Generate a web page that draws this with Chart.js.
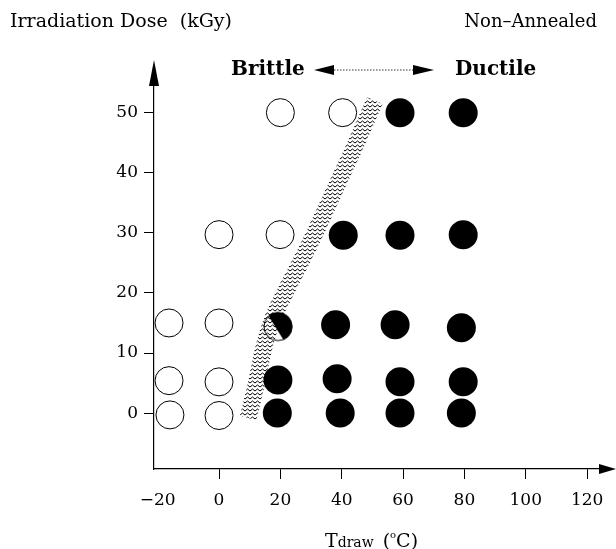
<!DOCTYPE html>
<html>
<head>
<meta charset="utf-8">
<script src="https://cdn.jsdelivr.net/npm/chart.js@4.4.0/dist/chart.umd.min.js"></script>
<style>html,body{margin:0;background:#fff}</style>
</head>
<body>
<canvas id="c" width="616" height="549"></canvas>
<script>
// tick values
const xTicks = [-20, 0, 20, 40, 60, 80, 100, 120];
const yTicks = [0, 10, 20, 30, 40, 50];

// brittle samples (open circles)
const brittle = [
    {x: -16.3, y: 15}, {x: -16.3, y: 5.4}, {x: -16, y: -0.3},
    {x: 0, y: 15}, {x: 0, y: 5.2}, {x: 0, y: -0.4}, {x: 0, y: 29.7},
    {x: 19.9, y: 29.7}, {x: 20, y: 50}, {x: 40.3, y: 50}
];
// ductile samples (filled circles)
const ductile = [
    {x: 59, y: 50}, {x: 79.6, y: 50},
    {x: 40.5, y: 29.6}, {x: 59, y: 29.6}, {x: 79.6, y: 29.7},
    {x: 38, y: 14.7}, {x: 57.4, y: 14.7}, {x: 79, y: 14.2},
    {x: 19.2, y: 5.5}, {x: 38.5, y: 5.7}, {x: 59, y: 5.2}, {x: 79.6, y: 5.2},
    {x: 19, y: 0}, {x: 39.5, y: 0}, {x: 59, y: 0}, {x: 79, y: 0}
];
// partly ductile
const mixed = [{x: 19.2, y: 14.4}];

// transition band centre line
const bandX = [9.5, 12.2, 14.2, 17, 21.5, 26.5, 31.3, 35.8, 40.3, 44.8, 50.8];
const bandY = [-0.8, 5, 10, 15, 20, 25, 30, 35, 40, 45, 52];

const FONT = 'DejaVu Serif';

// zigzag pattern for the band
const pc = document.createElement('canvas');
pc.width = 5; pc.height = 4;
const pctx = pc.getContext('2d');
pctx.strokeStyle = '#000';
pctx.lineWidth = 1;
pctx.beginPath();
pctx.moveTo(0, 3); pctx.lineTo(2.5, 1); pctx.lineTo(5, 3);
pctx.stroke();
const zigzag = document.getElementById('c').getContext('2d').createPattern(pc, 'repeat');

// half filled marker
const half = document.createElement('canvas');
half.width = 32; half.height = 32;
(function () {
    const h = half.getContext('2d');
    h.translate(16, 16);
    h.save();
    h.beginPath(); h.arc(0, 0, 14.5, 0, Math.PI * 2); h.clip();
    h.fillStyle = '#fff'; h.fillRect(-16, -16, 32, 32);
    h.fillStyle = '#000';
    h.beginPath();
    h.moveTo(-18.4, -25); h.lineTo(15, 28.4); h.lineTo(30, 28.4); h.lineTo(30, -25);
    h.closePath(); h.fill();
    h.restore();
    h.strokeStyle = '#000'; h.lineWidth = 1;
    h.beginPath(); h.arc(0, 0, 14, 0, Math.PI * 2); h.stroke();
})();

const extras = {
    id: 'extras',
    afterDraw(chart) {
        const ctx = chart.ctx;
        const a = chart.chartArea;
        ctx.save();
        ctx.fillStyle = '#000';
        ctx.strokeStyle = '#000';
        // axis arrowheads
        ctx.beginPath();
        ctx.moveTo(a.left, 60); ctx.lineTo(a.left - 5, a.top + 1); ctx.lineTo(a.left + 5, a.top + 1);
        ctx.closePath(); ctx.fill();
        ctx.beginPath();
        ctx.moveTo(616, a.bottom); ctx.lineTo(a.right - 1, a.bottom - 5); ctx.lineTo(a.right - 1, a.bottom + 5);
        ctx.closePath(); ctx.fill();

        ctx.textBaseline = 'alphabetic';
        ctx.font = '19px "' + FONT + '"';
        ctx.textAlign = 'left';
        ctx.fillText('Irradiation Dose  (kGy)', 10, 27);
        ctx.font = '18px "' + FONT + '"';
        ctx.textAlign = 'right';
        ctx.fillText('Non\u2013Annealed', 597, 27);

        // brittle / ductile arrow
        ctx.font = 'bold 20px "' + FONT + '"';
        ctx.textAlign = 'left';
        ctx.fillText('Brittle', 231, 75);
        ctx.fillText('Ductile', 455, 75);
        ctx.beginPath();
        ctx.moveTo(314, 70); ctx.lineTo(334, 65); ctx.lineTo(334, 75); ctx.closePath(); ctx.fill();
        ctx.beginPath();
        ctx.moveTo(434, 70); ctx.lineTo(413, 65); ctx.lineTo(413, 75); ctx.closePath(); ctx.fill();
        ctx.lineWidth = 0.8;
        ctx.setLineDash([1.5, 1.5]);
        ctx.beginPath(); ctx.moveTo(334, 70); ctx.lineTo(413, 70); ctx.stroke();
        ctx.setLineDash([]);

        // x title: T_draw (oC)
        let x = 325;
        const y = 547;
        ctx.font = '19px "' + FONT + '"';
        ctx.fillText('T', x, y); x += ctx.measureText('T').width;
        ctx.font = '14px "' + FONT + '"';
        ctx.fillText('draw', x, y); x += ctx.measureText('draw').width + 9;
        ctx.font = '19px "' + FONT + '"';
        ctx.fillText('(', x, y); x += ctx.measureText('(').width;
        ctx.font = '10px "' + FONT + '"';
        ctx.fillText('o', x, y - 9); x += ctx.measureText('o').width;
        ctx.font = '19px "' + FONT + '"';
        ctx.fillText('C)', x, y);
        ctx.restore();
    }
};

new Chart(document.getElementById('c'), {
    type: 'scatter',
    data: {
        datasets: [
            {
                type: 'line',
                data: bandX.map((v, i) => ({x: v, y: bandY[i]})),
                borderColor: zigzag,
                borderWidth: 17,
                borderCapStyle: 'butt',
                cubicInterpolationMode: 'monotone',
                pointRadius: 0,
                fill: false,
                order: 0
            },
            {
                data: brittle,
                pointStyle: 'circle',
                pointRadius: 14,
                backgroundColor: '#fff',
                borderColor: '#000',
                borderWidth: 1,
                order: 1
            },
            {
                data: ductile,
                pointStyle: 'circle',
                pointRadius: 14.5,
                backgroundColor: '#000',
                borderColor: '#000',
                borderWidth: 0,
                order: 1
            },
            {
                data: mixed,
                pointStyle: half,
                order: 1
            }
        ]
    },
    options: {
        responsive: false,
        animation: false,
        events: [],
        layout: { padding: { top: 85, right: 16, left: 0, bottom: 0 } },
        plugins: { legend: { display: false }, tooltip: { enabled: false } },
        elements: { point: { hitRadius: 0 } },
        clip: false,
        scales: {
            x: {
                type: 'linear',
                min: -21.2,
                max: 124.2,
                afterBuildTicks: (s) => { s.ticks = xTicks.map(v => ({value: v})); },
                afterFit: (s) => { s.height = 80; },
                border: { display: true, color: '#000', width: 1.2 },
                grid: {
                    drawOnChartArea: false,
                    drawTicks: true,
                    tickLength: 10,
                    color: (c) => (c.tick && c.tick.value === -20) ? 'rgba(0,0,0,0)' : '#000'
                },
                ticks: {
                    color: '#000',
                    padding: 11,
                    maxRotation: 0,
                    font: { family: FONT, size: 17 },
                    callback: (v) => (v < 0 ? '\u2212' + Math.abs(v) : '' + v)
                }
            },
            y: {
                type: 'linear',
                min: -9.3,
                max: 54.6,
                afterBuildTicks: (s) => { s.ticks = yTicks.map(v => ({value: v})); },
                afterFit: (s) => { s.width = 154; },
                border: { display: true, color: '#000', width: 1.2 },
                grid: {
                    drawOnChartArea: false,
                    drawTicks: true,
                    tickLength: 10,
                    color: '#000'
                },
                ticks: {
                    color: '#000',
                    padding: 6,
                    font: { family: FONT, size: 17 }
                }
            }
        }
    },
    plugins: [extras]
});
</script>
</body>
</html>
